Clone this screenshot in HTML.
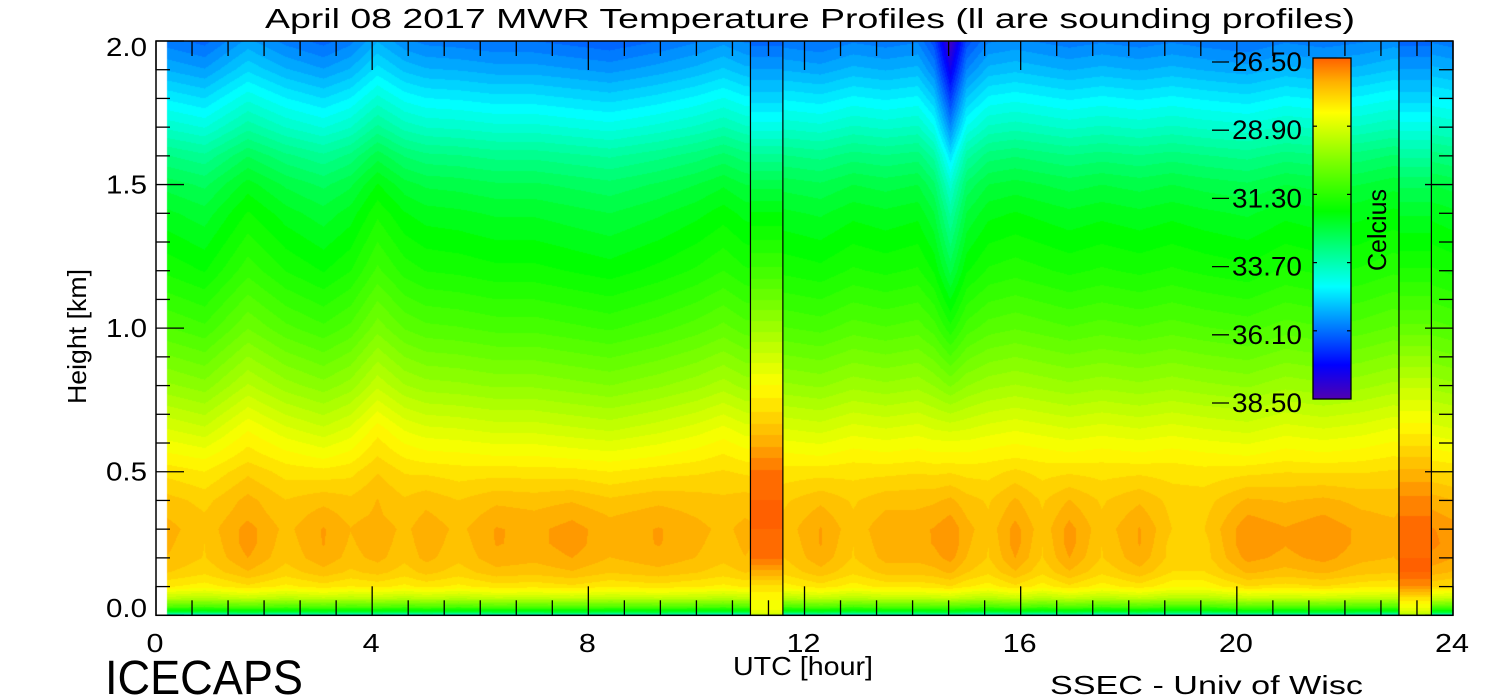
<!DOCTYPE html>
<html><head><meta charset="utf-8"><style>
html,body{margin:0;padding:0;background:#fff;}
#wrap{position:relative;width:1500px;height:700px;overflow:hidden;font-family:"Liberation Sans",sans-serif;}
canvas{position:absolute;left:156px;top:41px;}
svg{position:absolute;left:0;top:0;}
</style></head><body>
<div id="wrap">
<canvas id="field" width="1297" height="575"></canvas>
<svg id="ov" width="1500" height="700"></svg>
</div>
<script>
// ---- data ----
const heights = [0,0.01,0.03,0.06,0.1,0.15,0.2,0.3,0.4,0.5,0.6,0.7,0.8,1.0,1.2,1.4,1.5,1.6,1.7,1.8,1.9,2.0];
const baseProfile = [-34.5,-32.5,-30.8,-29.3,-28.2,-27.75,-27.55,-27.45,-27.65,-28.05,-28.6,-29.2,-29.8,-30.8,-31.6,-32.2,-32.6,-33.2,-34.0,-34.7,-35.4,-36.0];
const nodeHours = [0.2,0.9,1.7,2.4,3.1,3.6,4.1,4.6,5.0,5.6,6.3,7.0,7.7,8.4,9.3,10.0,10.5,10.9,11.6,12.3,12.9,13.5,14.1,14.4,14.7,15.0,15.4,15.9,16.4,16.9,17.5,18.2,18.8,19.4,20.2,20.9,21.6,22.3,22.9,23.6,24];
const upperAnom = [0,-0.2,0.45,0.05,-0.2,0.05,0.6,0.2,0.05,0,-0.1,-0.1,-0.2,-0.3,-0.1,0.1,0.3,0.1,0,-0.1,0.1,0,0.1,0,0,0,0.1,0.2,0.1,0,0.1,0,0.1,0,-0.1,0.1,0,0.1,0.25,0.1,0];
const lowAnom = [0.1,-0.2,0.4,-0.1,0.3,0,0.2,-0.1,0.2,-0.1,0.3,0.2,0.4,0.1,0.3,0.1,-0.1,0.1,-0.2,0.3,-0.2,0.2,0.2,0.3,0.5,0.1,-0.2,0.4,-0.2,0.4,-0.2,0.3,-0.3,-0.3,0.5,0.3,0.5,0.2,0.1,0.6,0.4];
const tongueAnom = [0,0,0,0,0,0,0,0,0,0,0,0,0,0,0,0,0,0,0,0,0,0,0,-0.5,-2.3,-0.5,0,0,0,0,0,0,0,0,0,0,0,0,0,0,0];
const soundingHours = [11.0,23.0];
const sounding1 = [-29.5,-28.8,-28.5,-28.4,-28.0,-27.3,-26.7,-26.5,-26.5,-26.7,-27.3,-27.9,-28.4,-29.7,-31.0,-32.0,-32.6,-33.4,-34.3,-35.0,-35.6,-36.2];
const sounding2 = [-29.8,-29,-28.6,-28,-27,-26.5,-26.5,-26.6,-26.9,-27.4,-28.0,-28.6,-29.2,-30.5,-31.5,-32.3,-32.8,-33.5,-34.3,-35.0,-35.6,-36.2];
const xTicks = [0,4,8,12,16,20,24];
const yTicks = [0,0.5,1.0,1.5,2.0];
const cbLabels = ["-26.50","-28.90","-31.30","-33.70","-36.10","-38.50"];
const tMin = -38.5, tMax = -26.5;

// ---- scales ----
const X0=156, X1=1453, Y0=615.3, Y1=41;
const xs = h => X0 + h*(X1-X0)/24;
const ys = k => Y0 - k*(Y0-Y1)/2;
const stops=[[0,80,0,176],[0.1,0,0,255],[0.2,0,112,255],[0.33,0,255,255],[0.45,0,255,120],[0.55,0,255,0],[0.7,128,255,0],[0.84,255,255,0],[0.93,255,176,0],[1,255,96,0]];
function cmap(v){v=Math.max(0,Math.min(1,v));for(let i=1;i<stops.length;i++){if(v<=stops[i][0]){const a=stops[i-1],b=stops[i],f=(v-a[0])/(b[0]-a[0]);return [a[1]+f*(b[1]-a[1]),a[2]+f*(b[2]-a[2]),a[3]+f*(b[3]-a[3])];}}return stops[stops.length-1].slice(1);}
function interp(xa,ya,x){if(x<=xa[0])return ya[0];for(let i=1;i<xa.length;i++){if(x<=xa[i]){const f=(x-xa[i-1])/(xa[i]-xa[i-1]);return ya[i-1]+f*(ya[i]-ya[i-1]);}}return ya[ya.length-1];}
function quant(T){const step=(tMax-tMin)/50;let l=Math.floor((T-tMin)/step);return Math.max(0,Math.min(1,(l+0.5)*step/(tMax-tMin)));}

// ---- field ----
const cv=document.getElementById('field'),ctx=cv.getContext('2d');
const W=cv.width,H=cv.height,img=ctx.createImageData(W,H);
const rows=[];
for(let py=0;py<H;py++){const y=Y1+py+0.5;const k=(Y0-y)/(Y0-Y1)*2;
 rows.push({k:k,b:interp(heights,baseProfile,k),wl:Math.max(0,1-Math.abs(k-0.25)/0.3),wu:Math.max(0,Math.min(1,(k-0.35)/0.3)),wt:Math.max(0,(k-0.6)/1.4),s1:interp(heights,sounding1,k),s2:interp(heights,sounding2,k)});}
for(let px=0;px<W;px++){const hr=(px+0.5)*24/(X1-X0);if(hr<0.2)continue;
 let snd=null;
 if(hr>=soundingHours[0]&&hr<soundingHours[0]+0.6)snd='s1';
 if(hr>=soundingHours[1]&&hr<soundingHours[1]+0.6)snd='s2';
 const up=interp(nodeHours,upperAnom,hr),lo=interp(nodeHours,lowAnom,hr),tg=interp(nodeHours,tongueAnom,hr);
 for(let py=0;py<H;py++){const r=rows[py];if(r.k<0)continue;
  const T=snd?r[snd]:r.b+lo*r.wl+up*r.wu+tg*r.wt;
  const c=cmap(quant(T));const i=(py*W+px)*4;img.data[i]=c[0];img.data[i+1]=c[1];img.data[i+2]=c[2];img.data[i+3]=255;}}
ctx.putImageData(img,0,0);

// ---- overlay ----
const NS='http://www.w3.org/2000/svg',svg=document.getElementById('ov');
function mk(tag,at,txt){const e=document.createElementNS(NS,tag);for(const k in at)e.setAttribute(k,at[k]);if(txt!==undefined)e.textContent=txt;svg.appendChild(e);return e;}
soundingHours.forEach(sh=>{[sh,sh+0.6].forEach(v=>{const l=mk('line',{x1:xs(v),x2:xs(v),y1:Y1,y2:Y0,stroke:'#000','stroke-width':1.2});
 
 });});
const box=mk('rect',{x:X0,y:Y1,width:X1-X0,height:Y0-Y1,fill:'none',stroke:'#000','stroke-width':1.5});


for(let i=0;i<=36;i++){const h=i*4/6,x=xs(h),maj=i%6===0,L=maj?29:15;
 const t1=mk('line',{x1:x,x2:x,y1:Y0,y2:Y0-L,stroke:'#000','stroke-width':1.3});
 
 
 const t2=mk('line',{x1:x,x2:x,y1:Y1,y2:Y1+L,stroke:'#000','stroke-width':1.3});
 
 }
xTicks.forEach(v=>{const s=String(v);const t=mk('text',{x:xs(v)-1,y:652,'font-size':26,'text-anchor':'middle',fill:'#000',textLength:s.length*17,lengthAdjust:'spacingAndGlyphs'},s);
 
 });
for(let i=0;i<=20;i++){const k=i*0.1,y=ys(k),maj=i%5===0,L=maj?28:14;
 const a=mk('line',{x1:X0,x2:X0+L,y1:y,y2:y,stroke:'#000','stroke-width':1.3});
 
 
 const b=mk('line',{x1:X1,x2:X1-L,y1:y,y2:y,stroke:'#000','stroke-width':1.3});
 
 }
yTicks.forEach(v=>{let y=ys(v)+9;if(v===0)y=617;if(v===2)y=56;const t=mk('text',{x:147,y:y,'font-size':26,'text-anchor':'end',fill:'#000',textLength:41,lengthAdjust:'spacingAndGlyphs'},v.toFixed(1));
 
 });
const tt=mk('text',{x:265,y:28,'font-size':28,fill:'#000',textLength:1090,lengthAdjust:'spacingAndGlyphs'},'April 08 2017 MWR Temperature Profiles (ll are sounding profiles)');


const xt=mk('text',{x:733,y:675,'font-size':26,fill:'#000',textLength:140,lengthAdjust:'spacingAndGlyphs'},'UTC [hour]');


const yt=mk('text',{x:-67,y:0,'font-size':26,fill:'#000',textLength:135,lengthAdjust:'spacingAndGlyphs',transform:'translate(86,337) rotate(-90)'},'Height [km]');


const ic=mk('text',{x:105,y:694,'font-size':48,fill:'#000',textLength:198,lengthAdjust:'spacingAndGlyphs'},'ICECAPS');


const ss=mk('text',{x:1050,y:694,'font-size':26,fill:'#000',textLength:313,lengthAdjust:'spacingAndGlyphs'},'SSEC - Univ of Wisc');


const cbX=1313,cbW=38,cbT=58,cbB=399;
const defs=mk('defs',{});
const lg=document.createElementNS(NS,'linearGradient');lg.setAttribute('id','cbg');lg.setAttribute('x1','0');lg.setAttribute('y1','1');lg.setAttribute('x2','0');lg.setAttribute('y2','0');defs.appendChild(lg);
stops.forEach(s=>{const st=document.createElementNS(NS,'stop');st.setAttribute('offset',s[0]);st.setAttribute('stop-color','rgb('+s[1]+','+s[2]+','+s[3]+')');lg.appendChild(st);});
const cb=mk('rect',{x:cbX,y:cbT,width:cbW,height:cbB-cbT,fill:'url(#cbg)',stroke:'#000','stroke-width':1.3});


cbLabels.forEach((s,i)=>{const y=cbT+i*(cbB-cbT)/(cbLabels.length-1);
 const d=mk('line',{x1:1212,x2:1229,y1:y+4,y2:y+4,stroke:'#000','stroke-width':1.3});
 
 
 const t=mk('text',{x:1232,y:y+13,'font-size':27,fill:'#000',textLength:70,lengthAdjust:'spacingAndGlyphs'},s.replace('-',''));
 
 
 if(i>0&&i<cbLabels.length-1){
  const a=mk('line',{x1:cbX,x2:cbX+4,y1:y,y2:y,stroke:'#000','stroke-width':1.2});
  
  
  const b=mk('line',{x1:cbX+cbW,x2:cbX+cbW-4,y1:y,y2:y,stroke:'#000','stroke-width':1.2});
  
  }});
const cl=mk('text',{x:-40,y:0,'font-size':26,fill:'#000',textLength:82,lengthAdjust:'spacingAndGlyphs',transform:'translate(1386,231) rotate(-90)'},'Celcius');


</script>
</body></html>
